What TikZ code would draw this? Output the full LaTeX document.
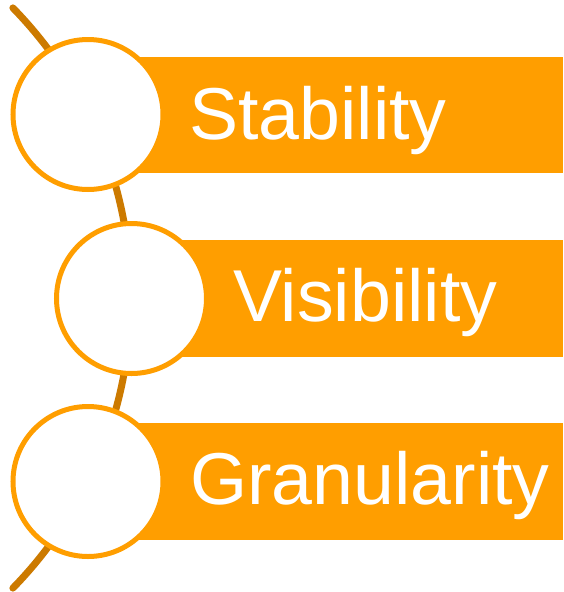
\documentclass[tikz,border=0pt]{standalone}
\usepackage{fontspec}
\setmainfont{Liberation Sans}
\definecolor{barorange}{RGB}{255,158,0}
\definecolor{arcorange}{RGB}{204,122,0}
\begin{document}
\begin{tikzpicture}[x=1pt,y=-1pt,
  barbox/.style={fill=barorange,draw=none,inner sep=0pt},
  ringnode/.style={circle,fill=white,draw=barorange,line width=5pt,minimum size=150pt,inner sep=0pt},
  label/.style={text=white,font=\fontsize{73.5}{80}\selectfont,anchor=base west,inner sep=0pt}]
\useasboundingbox (0,0) rectangle (563,592);
% arc
\draw[arcorange,line width=7pt,line cap=round] (-284.4,298) ++(44.3:415.4) arc[start angle=44.3,end angle=-44.3,radius=415.4];
% bars
\fill[barorange] (88,57) rectangle (563,173);
\fill[barorange] (131.5,240) rectangle (563,357);
\fill[barorange] (88,423) rectangle (563,540);
% circles
\node[ringnode] (c1) at (88,114.5) {};
\node[ringnode] (c2) at (131.5,298.5) {};
\node[ringnode] (c3) at (88,481.5) {};
% texts
\node[label] (t1) at (189,139) {Stability};
\node[label] (t2) at (233,321) {Visibility};
\node[label] (t3) at (190,504) {Granularity};
\end{tikzpicture}
\end{document}
